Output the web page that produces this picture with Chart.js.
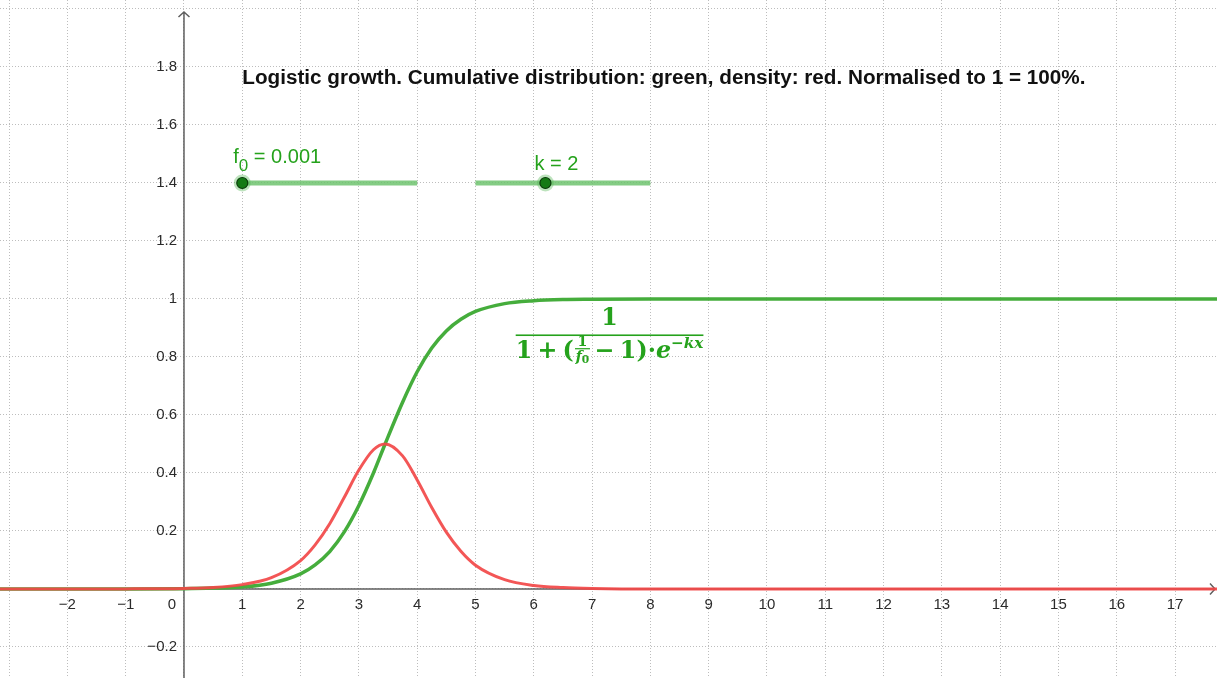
<!DOCTYPE html>
<html>
<head>
<meta charset="utf-8">
<script src="https://cdn.jsdelivr.net/npm/chart.js@4"></script>
<style>
  html, body { margin: 0; padding: 0; background: #fff; }
  canvas { display: block; }
</style>
</head>
<body>
<canvas id="logisticChart" width="1217" height="678"></canvas>
<script>
// values
const xValues = [-3.2, -2, -1, 0, 0.5, 1, 1.5, 2, 2.25, 2.5, 2.75, 3, 3.25, 3.45, 3.75, 4, 4.25, 4.5, 4.75, 5, 5.5, 6, 6.5, 7, 8, 10, 12, 14, 16, 17.8];
const cumulative = [0, 0, 0.0001, 0.001, 0.003, 0.007, 0.02, 0.052, 0.083, 0.129, 0.197, 0.288, 0.4, 0.5, 0.644, 0.749, 0.831, 0.89, 0.93, 0.957, 0.984, 0.994, 0.998, 0.999, 1, 1, 1, 1, 1, 1];
const density = [0, 0, 0.0003, 0.002, 0.005, 0.015, 0.039, 0.098, 0.152, 0.225, 0.316, 0.41, 0.48, 0.5, 0.459, 0.376, 0.281, 0.196, 0.13, 0.082, 0.032, 0.012, 0.005, 0.002, 0, 0, 0, 0, 0, 0];

const xTickValues = [-2, -1, 0, 1, 2, 3, 4, 5, 6, 7, 8, 9, 10, 11, 12, 13, 14, 15, 16, 17];
const yTickValues = [-0.2, 0.2, 0.4, 0.6, 0.8, 1, 1.2, 1.4, 1.6, 1.8];

// sliders
const sliderY = 1.4;
const f0Track = [1, 4];
const f0Knob = 1;
const kTrack = [5, 8];
const kKnob = 6.2;

const titleText = 'Logistic growth. Cumulative distribution: green, density: red. Normalised to 1 = 100%.';

const GREEN = '#45ad3c';
const RED = 'rgba(242, 72, 72, 0.92)';
const TEXT_GREEN = '#25a21c';

const fmt = v => (v < 0 ? '\u2212' : '') + String(Math.abs(Number(v.toFixed(1))));

function formulaLayout(ctx, s, left, base, draw) {
  const fam = '"DejaVu Serif"';
  const main = `bold ${s}px ${fam}`;
  const ital = `italic bold ${s}px ${fam}`;
  const small = `bold ${0.6 * s}px ${fam}`;
  const smallIt = `italic bold ${0.6 * s}px ${fam}`;
  const tiny = `bold ${0.45 * s}px ${fam}`;
  const supIt = `italic bold ${0.64 * s}px ${fam}`;
  let x = left;
  const put = (txt, font, dy = 0) => {
    ctx.font = font;
    const w = ctx.measureText(txt).width;
    if (draw) ctx.fillText(txt, x, base + dy);
    x += w;
  };
  put('1', main); x += 0.22 * s; put('+', main); x += 0.22 * s; put('(', main);
  // the small 1/f0
  ctx.font = small; const wNum = ctx.measureText('1').width;
  ctx.font = smallIt; const wF = ctx.measureText('f').width;
  ctx.font = tiny; const w0 = ctx.measureText('0').width;
  const wFrac = Math.max(wNum, wF + w0) + 0.16 * s;
  const fracBar = base - 0.4 * s;
  if (draw) {
    ctx.font = small;
    ctx.fillText('1', x + (wFrac - wNum) / 2, fracBar - 0.12 * s);
    ctx.fillRect(x + 0.05 * s, fracBar - 0.6, wFrac - 0.1 * s, 1.2);
    const fx = x + (wFrac - wF - w0) / 2;
    ctx.font = smallIt; ctx.fillText('f', fx, fracBar + 0.5 * s);
    ctx.font = tiny; ctx.fillText('0', fx + wF, fracBar + 0.62 * s);
  }
  x += wFrac;
  x += 0.15 * s; put('\u2212', main); x += 0.22 * s; put('1', main); put(')', main);
  put('\u00b7', main); put('e', ital); put('\u2212kx', supIt, -0.45 * s);
  return x - left;
}

const overlay = {
  id: 'overlay',
  beforeDatasetsDraw(chart) {
    const {ctx, chartArea, scales: {x, y}} = chart;
    const x0 = x.getPixelForValue(0);
    const y0 = y.getPixelForValue(0);
    ctx.save();
    ctx.strokeStyle = '#5f5f5f';
    ctx.lineWidth = 1.5;
    ctx.beginPath();
    ctx.moveTo(x0, chartArea.bottom);
    ctx.lineTo(x0, chartArea.top + 12);
    ctx.moveTo(x0 - 5.5, chartArea.top + 17);
    ctx.lineTo(x0, chartArea.top + 12);
    ctx.lineTo(x0 + 5.5, chartArea.top + 17);
    ctx.moveTo(chartArea.left, y0);
    ctx.lineTo(chartArea.right - 2, y0);
    ctx.moveTo(chartArea.right - 7, y0 - 5.5);
    ctx.lineTo(chartArea.right - 2, y0);
    ctx.lineTo(chartArea.right - 7, y0 + 5.5);
    ctx.stroke();
    ctx.restore();
  },
  afterDatasetsDraw(chart) {
    const {ctx, scales: {x, y}} = chart;
    const x0 = x.getPixelForValue(0);
    const y0 = y.getPixelForValue(0);
    ctx.save();

    // tick labels
    ctx.fillStyle = '#2b2b2b';
    ctx.font = '15px "Liberation Sans", Arial, sans-serif';
    ctx.textBaseline = 'top';
    xTickValues.forEach(v => {
      if (v === 0) {
        ctx.textAlign = 'right';
        ctx.fillText('0', x0 - 8, y0 + 8);
      } else {
        ctx.textAlign = 'center';
        ctx.fillText(fmt(v), x.getPixelForValue(v), y0 + 8);
      }
    });
    ctx.textAlign = 'right';
    ctx.textBaseline = 'middle';
    yTickValues.forEach(v => {
      ctx.fillText(fmt(v), x0 - 7, y.getPixelForValue(v));
    });

    // title
    ctx.fillStyle = '#111';
    ctx.font = 'bold 20.7px "Liberation Sans", Arial, sans-serif';
    ctx.textAlign = 'left';
    ctx.textBaseline = 'alphabetic';
    ctx.fillText(titleText, x.getPixelForValue(1), y.getPixelForValue(1.74));

    // slider labels
    ctx.fillStyle = TEXT_GREEN;
    const sy = y.getPixelForValue(sliderY);
    let lx = x.getPixelForValue(f0Knob) - 9;
    ctx.font = '20px "Liberation Sans", Arial, sans-serif';
    ctx.fillText('f', lx, sy - 20);
    lx += ctx.measureText('f').width;
    ctx.font = '17px "Liberation Sans", Arial, sans-serif';
    ctx.fillText('0', lx, sy - 12);
    lx += ctx.measureText('0').width;
    ctx.font = '20px "Liberation Sans", Arial, sans-serif';
    ctx.fillText(' = 0.001', lx, sy - 20);
    ctx.fillText('k = 2', x.getPixelForValue(kKnob) - 11, sy - 13);

    // formula
    const left = x.getPixelForValue(5.69);
    const right = x.getPixelForValue(8.91);
    const barY = y.getPixelForValue(0.875);
    const w = formulaLayout(ctx, 20, left, barY + 23, false);
    const s = 20 * (right - left) / w;
    ctx.fillStyle = TEXT_GREEN;
    ctx.fillRect(left, barY - 0.8, right - left, 1.6);
    ctx.font = `bold ${s}px "DejaVu Serif"`;
    ctx.textAlign = 'center';
    ctx.fillText('1', (left + right) / 2, barY - 10);
    ctx.textAlign = 'left';
    formulaLayout(ctx, s, left, barY + 23, true);

    ctx.restore();
  }
};

const toPoints = (xs, ys) => xs.map((v, i) => ({x: v, y: ys[i]}));

const chart = new Chart(document.getElementById('logisticChart').getContext('2d'), {
  type: 'line',
  data: {
    datasets: [
      {
        label: 'knobs',
        data: [{x: f0Knob, y: sliderY}, {x: kKnob, y: sliderY}],
        showLine: false,
        pointRadius: 5.5,
        pointBackgroundColor: '#157a15',
        pointBorderColor: '#0b3d0b',
        pointBorderWidth: 1.2
      },
      {
        label: 'halo',
        data: [{x: f0Knob, y: sliderY}, {x: kKnob, y: sliderY}],
        showLine: false,
        pointRadius: 8.5,
        pointBackgroundColor: 'rgba(90, 185, 90, 0.4)',
        pointBorderWidth: 0
      },
      {
        label: 'f0 slider',
        data: f0Track.map(v => ({x: v, y: sliderY})),
        borderColor: 'rgba(110, 195, 110, 0.85)',
        borderWidth: 5,
        pointRadius: 0
      },
      {
        label: 'k slider',
        data: kTrack.map(v => ({x: v, y: sliderY})),
        borderColor: 'rgba(110, 195, 110, 0.85)',
        borderWidth: 5,
        pointRadius: 0
      },
      {
        label: 'density',
        data: toPoints(xValues, density),
        borderColor: RED,
        borderWidth: 3,
        pointRadius: 0,
        cubicInterpolationMode: 'monotone'
      },
      {
        label: 'cumulative',
        data: toPoints(xValues, cumulative),
        borderColor: GREEN,
        borderWidth: 3.5,
        pointRadius: 0,
        cubicInterpolationMode: 'monotone'
      }
    ]
  },
  options: {
    responsive: false,
    animation: false,
    devicePixelRatio: 1,
    events: [],
    layout: { padding: 0, autoPadding: false },
    plugins: {
      legend: { display: false },
      tooltip: { enabled: false }
    },
    scales: {
      x: {
        type: 'linear',
        position: { y: 0 },
        min: -3.156,
        max: 17.72,
        ticks: { stepSize: 1, includeBounds: false, display: false },
        grid: { color: '#bdbdbd', lineWidth: 1, drawTicks: false },
        border: { display: false, dash: [1, 2] }
      },
      y: {
        type: 'linear',
        position: { x: 0 },
        min: -0.307,
        max: 2.031,
        ticks: { stepSize: 0.2, includeBounds: false, display: false },
        grid: { color: '#bdbdbd', lineWidth: 1, drawTicks: false },
        border: { display: false, dash: [1, 2] }
      }
    }
  },
  plugins: [overlay]
});
</script>
</body>
</html>
